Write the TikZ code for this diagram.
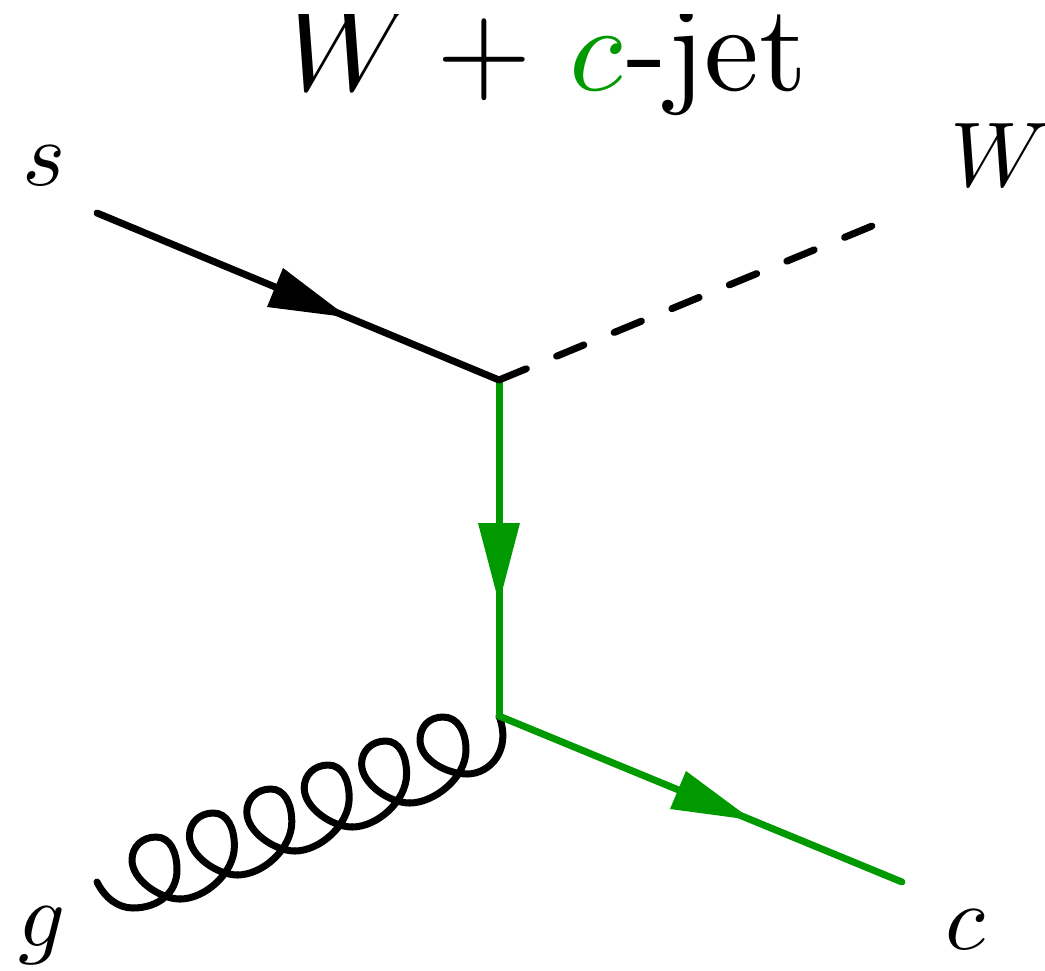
\documentclass[tikz,border=0pt]{standalone}
\usepackage{xcolor}
\definecolor{cgreen}{RGB}{0,153,0}
\tikzset{
  line/.style={line width=7pt,line cap=round,line join=round},
  lab/.style={inner sep=0pt,anchor=base,scale=9.2},
}
\begin{document}
\begin{tikzpicture}[x=1pt,y=-1pt]
\useasboundingbox (0,0) rectangle (1045,970);
\coordinate (s) at (97,213);
\coordinate (v1) at (499,380);
\coordinate (W) at (872,226);
\coordinate (v2) at (499,716);
\coordinate (c) at (902,882);
\coordinate (g) at (97,882);
\begin{scope}
\clip (0,14) rectangle (1045,120);
\node[inner sep=0pt,anchor=base west,scale=12.3] (title) at (280.5,90) {$W$\hspace{-1.67pt} +\hspace{-0.33pt} \textcolor{cgreen}{$c$}\hspace{0.3pt}-jet};
\end{scope}
\node[lab] (ls) at (44,185) {$s$};
\node[lab,anchor=base west] (lw) at (949,186) {$W$};
\node[lab] (lg) at (42,946) {$g$};
\node[lab] (lc) at (965,949) {$c$};
% gluon
\draw[line] (g) .. controls (105,898) and (118,908) .. (133,908)
  .. controls (158,908) and (177,893) .. (177,870)
  .. controls (177,852) and (170,837) .. (156,837)
  .. controls (142,837) and (132,847) .. (132,860)
  .. controls (132,880) and (160,899) .. (180,899);
\foreach \i in {0,...,3}{
  \begin{scope}[shift={({57.4*\i},{-24*\i})}]
    \draw[line] (180,899) .. controls (205,899) and (234.4,873) .. (234.4,846)
      .. controls (234.4,828) and (227.4,813) .. (213.4,813)
      .. controls (199.4,813) and (189.4,823) .. (189.4,836)
      .. controls (189.4,856) and (217.4,875) .. (237.4,875);
  \end{scope}
}
\draw[line] (409.6,803) .. controls (434,803) and (466,778) .. (466,750)
  .. controls (466,732) and (458,717) .. (443,717)
  .. controls (429,717) and (420,727) .. (420,740)
  .. controls (420,760) and (447,774) .. (467,774)
  .. controls (490,774) and (512,750) .. (v2);
\draw[line,cgreen] (v1) -- (v2);
\draw[line,cgreen] (v2) -- (c);
\draw[line] (s) -- (v1);
\draw[line,dash pattern=on 29.5pt off 32.8pt] (v1) -- (W);
\fill (348,317.3) -- (283,268) -- (267,307) -- cycle;
\fill[cgreen] (499,603) -- (478,523) -- (520,523) -- cycle;
\fill[cgreen] (752,820) -- (686,771) -- (670,809) -- cycle;
\end{tikzpicture}
\end{document}
